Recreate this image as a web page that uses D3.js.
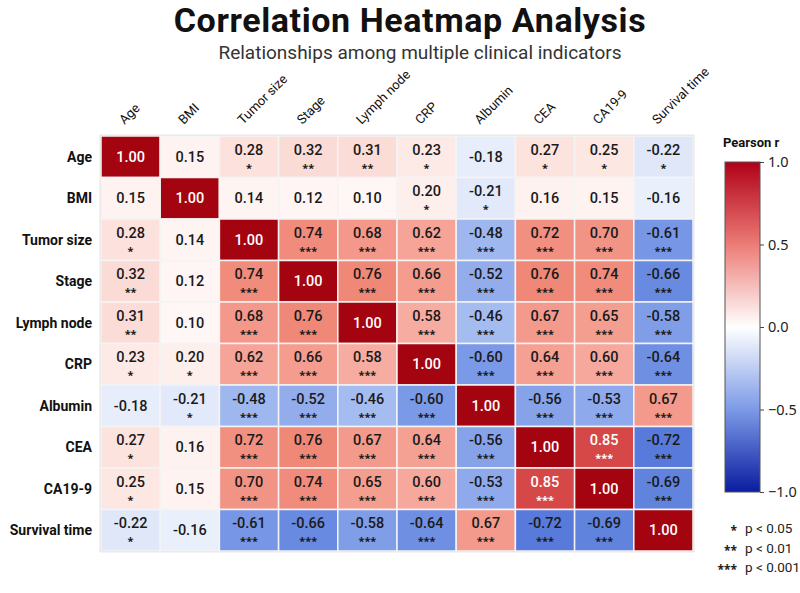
<!DOCTYPE html>
<html>
<head>
<meta charset="UTF-8">
<title>Correlation Heatmap</title>
<script src="https://cdn.jsdelivr.net/npm/d3@7"></script>
<style>
    body { margin: 0; background: #fff; }
    svg { font-family: Roboto, "Noto Sans", sans-serif; }
</style>
</head>
<body>
<svg id="chart" width="800" height="593"></svg>
<script>
// variables, same order for rows and columns
const labels = ["Age", "BMI", "Tumor size", "Stage", "Lymph node", "CRP", "Albumin", "CEA", "CA19-9", "Survival time"];

// Pearson r, row by row
const rAge      = [1.00, 0.15, 0.28, 0.32, 0.31, 0.23, -0.18, 0.27, 0.25, -0.22];
const rBMI      = [0.15, 1.00, 0.14, 0.12, 0.10, 0.20, -0.21, 0.16, 0.15, -0.16];
const rTumor    = [0.28, 0.14, 1.00, 0.74, 0.68, 0.62, -0.48, 0.72, 0.70, -0.61];
const rStage    = [0.32, 0.12, 0.74, 1.00, 0.76, 0.66, -0.52, 0.76, 0.74, -0.66];
const rLymph    = [0.31, 0.10, 0.68, 0.76, 1.00, 0.58, -0.46, 0.67, 0.65, -0.58];
const rCRP      = [0.23, 0.20, 0.62, 0.66, 0.58, 1.00, -0.60, 0.64, 0.60, -0.64];
const rAlbumin  = [-0.18, -0.21, -0.48, -0.52, -0.46, -0.60, 1.00, -0.56, -0.53, 0.67];
const rCEA      = [0.27, 0.16, 0.72, 0.76, 0.67, 0.64, -0.56, 1.00, 0.85, -0.72];
const rCA199    = [0.25, 0.15, 0.70, 0.74, 0.65, 0.60, -0.53, 0.85, 1.00, -0.69];
const rSurvival = [-0.22, -0.16, -0.61, -0.66, -0.58, -0.64, 0.67, -0.72, -0.69, 1.00];
const matrix = [rAge, rBMI, rTumor, rStage, rLymph, rCRP, rAlbumin, rCEA, rCA199, rSurvival];

// number of stars shown under each value (0 = none, diagonal has none)
const sigAge      = [0, 0, 1, 2, 2, 1, 0, 1, 1, 1];
const sigBMI      = [0, 0, 0, 0, 0, 1, 1, 0, 0, 0];
const sigTumor    = [1, 0, 0, 3, 3, 3, 3, 3, 3, 3];
const sigStage    = [2, 0, 3, 0, 3, 3, 3, 3, 3, 3];
const sigLymph    = [2, 0, 3, 3, 0, 3, 3, 3, 3, 3];
const sigCRP      = [1, 1, 3, 3, 3, 0, 3, 3, 3, 3];
const sigAlbumin  = [0, 1, 3, 3, 3, 3, 0, 3, 3, 3];
const sigCEA      = [1, 0, 3, 3, 3, 3, 3, 0, 3, 3];
const sigCA199    = [1, 0, 3, 3, 3, 3, 3, 3, 0, 3];
const sigSurvival = [1, 0, 3, 3, 3, 3, 3, 3, 3, 0];
const sig = [sigAge, sigBMI, sigTumor, sigStage, sigLymph, sigCRP, sigAlbumin, sigCEA, sigCA199, sigSurvival];

const legendTicks = [1.0, 0.5, 0.0, -0.5, -1.0];
const sigKeys = ["*", "**", "***"];
const sigText = ["p < 0.05", "p < 0.01", "p < 0.001"];

const svg = d3.select("#chart");

// flatten into cells
const cells = [];
matrix.forEach((row, i) => row.forEach((v, j) => {
    cells.push({ row: labels[i], col: labels[j], v: v, stars: sig[i][j] });
}));

const x = d3.scaleBand().domain(labels).range([101, 693]);
const y = d3.scaleBand().domain(labels).range([136, 551]);

// cell colours (cells come out lighter than the bar in the mid range)
const cellColor = d3.scaleLinear()
    .domain([-1, -0.75, -0.6, -0.45, -0.2, 0, 0.2, 0.5, 0.62, 0.78, 0.85, 1])
    .range(["#0a1f9e", "#4f74d8", "#7a99e7", "#a8bef1", "#e4ebfa", "#ffffff", "#fdefec", "#f8bcb2", "#f5a497", "#ef8473", "#d64848", "#a4040f"])
    .clamp(true);

const barColor = d3.scaleLinear()
    .domain([-1, -0.5, 0, 0.5, 1])
    .range(["#0a1ca0", "#7c9ae6", "#ffffff", "#ec7c76", "#b00018"]);

// titles
svg.append("text")
    .attr("x", 410).attr("y", 32)
    .attr("text-anchor", "middle")
    .attr("font-size", 34).attr("font-weight", "bold")
    .attr("letter-spacing", 0.6)
    .attr("fill", "#111")
    .text("Correlation Heatmap Analysis");

svg.append("text")
    .attr("x", 420).attr("y", 59)
    .attr("text-anchor", "middle")
    .attr("font-size", 19)
    .attr("fill", "#333")
    .text("Relationships among multiple clinical indicators");

// heatmap
const g = svg.append("g");

g.append("rect")
    .attr("x", x.range()[0] - 0.5).attr("y", y.range()[0] - 0.5)
    .attr("width", x.range()[1] - x.range()[0] + 1)
    .attr("height", y.range()[1] - y.range()[0] + 1)
    .attr("fill", "none").attr("stroke", "#cfcfcf").attr("stroke-width", 1.5);

const cell = g.selectAll("g.cell")
    .data(cells)
    .join("g")
    .attr("class", "cell")
    .attr("transform", d => "translate(" + x(d.col) + "," + y(d.row) + ")");

cell.append("rect")
    .attr("width", x.bandwidth())
    .attr("height", y.bandwidth())
    .attr("fill", d => cellColor(d.v))
    .attr("stroke", "#f4f4f4")
    .attr("stroke-width", 1.5);

const textFill = d => Math.abs(d.v) >= 0.8 ? "#fff" : "#1a1a1a";

cell.append("text")
    .attr("x", x.bandwidth() / 2)
    .attr("y", d => d.stars > 0 ? 18.5 : y.bandwidth() / 2 + 5)
    .attr("text-anchor", "middle")
    .attr("font-size", 14.5)
    .attr("font-weight", 500)
    .attr("fill", textFill)
    .text(d => d.v.toFixed(2));

cell.filter(d => d.stars > 0)
    .append("text")
    .attr("x", x.bandwidth() / 2)
    .attr("y", 35.5)
    .attr("text-anchor", "middle")
    .attr("font-family", "'Noto Sans', sans-serif")
    .attr("font-size", 11)
    .attr("font-weight", "bold")
    .attr("fill", textFill)
    .text(d => "*".repeat(d.stars));

// row labels
g.selectAll("text.rowlab")
    .data(labels)
    .join("text")
    .attr("class", "rowlab")
    .attr("x", 92)
    .attr("y", d => y(d) + y.bandwidth() / 2 + 5)
    .attr("text-anchor", "end")
    .attr("font-size", 14)
    .attr("font-weight", "bold")
    .attr("fill", "#111")
    .text(d => d);

// column labels, rotated
g.selectAll("text.collab")
    .data(labels)
    .join("text")
    .attr("class", "collab")
    .attr("transform", d => "translate(" + (x(d) + x.bandwidth() / 2 - 6) + ",125) rotate(-45)")
    .attr("text-anchor", "start")
    .attr("font-size", 13)
    .attr("fill", "#111")
    .text(d => d);

// colour bar
const bar = { x: 725, y0: 162, y1: 492, w: 35 };
const ly = d3.scaleLinear().domain([1, -1]).range([bar.y0, bar.y1]);

const defs = svg.append("defs");
const grad = defs.append("linearGradient")
    .attr("id", "rgrad")
    .attr("x1", 0).attr("y1", 0).attr("x2", 0).attr("y2", 1);
d3.range(0, 1.0001, 0.05).forEach(t => {
    grad.append("stop")
        .attr("offset", t)
        .attr("stop-color", barColor(1 - 2 * t));
});

svg.append("text")
    .attr("x", 723).attr("y", 147)
    .attr("font-size", 13).attr("font-weight", "bold")
    .attr("fill", "#111")
    .text("Pearson r");

svg.append("rect")
    .attr("x", bar.x).attr("y", bar.y0)
    .attr("width", bar.w).attr("height", bar.y1 - bar.y0)
    .attr("fill", "url(#rgrad)")
    .attr("stroke", "#555").attr("stroke-width", 1);

svg.append("g")
    .attr("transform", "translate(" + (bar.x + bar.w) + ",0)")
    .call(d3.axisRight(ly).tickValues(legendTicks).tickFormat(d3.format(".1f")).tickSize(4))
    .call(a => a.select(".domain").remove())
    .call(a => a.selectAll("line").attr("stroke", "#444"))
    .call(a => a.selectAll("text")
        .attr("font-family", "'Noto Sans', sans-serif")
        .attr("font-size", 14.5)
        .attr("fill", "#222")
        .attr("x", 8));

// significance key
const key = svg.append("g");
sigKeys.forEach((s, i) => {
    key.append("text")
        .attr("x", 737).attr("y", 535 + i * 19.5)
        .attr("text-anchor", "end")
        .attr("font-family", "'Noto Sans', sans-serif")
        .attr("font-size", 12).attr("font-weight", "bold")
        .attr("fill", "#222")
        .text(s);
    key.append("text")
        .attr("x", 745).attr("y", 533 + i * 19.5)
        .attr("font-size", 13.5)
        .attr("fill", "#222")
        .text(sigText[i]);
});
</script>
</body>
</html>
